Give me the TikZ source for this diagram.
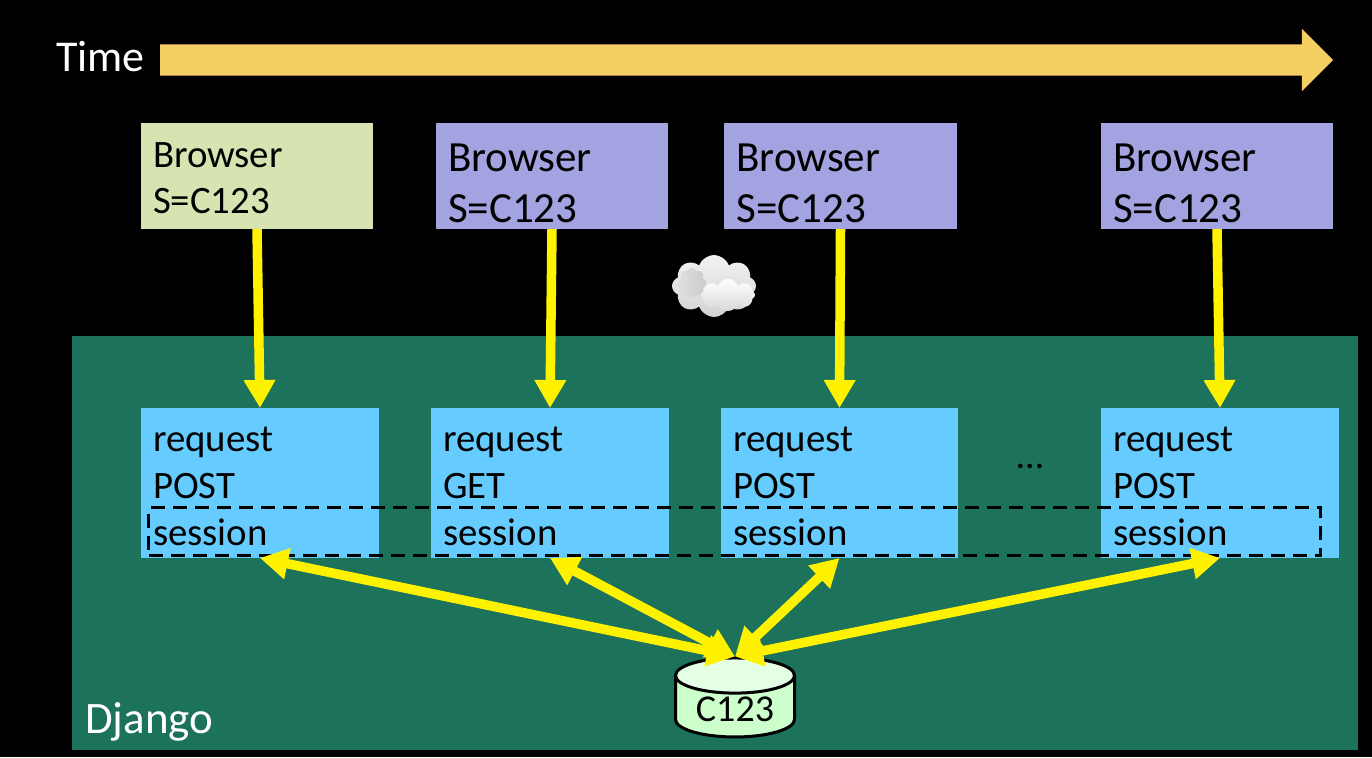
\documentclass[tikz,border=0pt]{standalone}
\usepackage{fontspec}
\setmainfont{Carlito}
\usetikzlibrary{arrows.meta,positioning,shapes.arrows,shapes.geometric,shapes.symbols}
\definecolor{panel green}{RGB}{28,114,90}
\definecolor{pale green}{RGB}{215,228,178}
\definecolor{pale violet}{RGB}{163,163,226}
\definecolor{req blue}{RGB}{102,204,255}
\definecolor{time gold}{RGB}{243,207,98}
\tikzset{
    small browser/.style = {
        anchor = north west,
        fill = pale green,
        outer sep = 0pt,
        minimum width = 232pt,
        minimum height = 106pt,
        text width = 208pt,
        text height = 20pt,
        text depth = 38pt,
        inner xsep = 12pt,
        inner ysep = 0pt,
        align = left,
        font = \fontsize{38.8}{46}\selectfont,
        },
    browser/.style = {
        small browser,
        fill = pale violet,
        text depth = 30pt,
        font = \fontsize{43}{51}\selectfont,
        },
    request/.style = {
        anchor = north west,
        fill = req blue,
        outer sep = 0pt,
        minimum width = 238pt,
        minimum height = 150pt,
        text width = 214pt,
        text height = 20pt,
        text depth = 84pt,
        inner xsep = 12pt,
        inner ysep = 0pt,
        align = left,
        font = \fontsize{38.8}{47.4}\selectfont,
        },
    wire/.style = {
        draw = yellow,
        line width = 9.5pt,
        -{Triangle[width=30pt,length=28pt]},
        },
    both wire/.style = {
        draw = yellow,
        line width = 9.5pt,
        {Triangle[width=30pt,length=28pt]}-{Triangle[width=30pt,length=28pt]},
        },
    puff/.style = {
        cloud,
        cloud puffs = 8,
        cloud puff arc = 140,
        inner sep = 0pt,
        },
}
\begin{document}
\begin{tikzpicture}[x=1pt,y=-1pt]
            \useasboundingbox (0,0) rectangle (1372,757);
            \fill[black] (0,0) rectangle (1372,757);

            \node[anchor=north west, fill=panel green, outer sep=0pt, minimum width=1286pt, minimum height=414pt] (django) at (72,336) {};
            \node[anchor=base west, text=white, font=\fontsize{45}{50}\selectfont, inner sep=0pt] (djangolabel) at (85,733) {Django};

            \node[anchor=west, single arrow, fill=time gold, outer sep=0pt, inner sep=0pt, inner ysep=15.5pt, minimum height=1173pt, minimum width=62pt, single arrow head extend=15.5pt] (timearrow) at (160,60) {};
            \node[anchor=base west, text=white, font=\fontsize{44}{50}\selectfont, inner sep=0pt] (timelabel) at (56,72) {Time};

            \node[small browser] (b1) at (141,123) {Browser\\S=C123};
            \node[browser, right=63pt of b1, anchor=west] (b2) {Browser\\S=C123};
            \node[browser, right=56pt of b2, anchor=west, minimum width=233pt] (b3) {Browser\\S=C123};
            \node[browser, right=144pt of b3, anchor=west] (b4) {Browser\\S=C123};

            \node[puff, minimum width=84pt, minimum height=62pt, top color=gray!10, bottom color=gray!35] (cloudback) at (714,286) {};
            \node[puff, minimum width=28pt, minimum height=30pt, left color=gray!25, right color=gray!40] (cloudleft) at (692,283) {};
            \node[puff, minimum width=54pt, minimum height=32pt, top color=white, bottom color=gray!30] (cloudfront) at (728,295) {};

            \node[request] (r1) at (141,408) {request\\POST\\session};
            \node[request, right=52pt of r1, anchor=west] (r2) {request\\GET\\session};
            \node[request, right=52pt of r2, anchor=west, minimum width=237pt, text width=213pt] (r3) {request\\POST\\session};
            \node[request, right=143pt of r3, anchor=west] (r4) {request\\POST\\session};
            \node[font=\fontsize{38}{46}\selectfont, inner sep=0pt] (dots) at (1030,466) {...};

            \node[anchor=north west, draw, dashed, line width=3pt, dash pattern=on 14pt off 8pt, minimum width=1172pt, minimum height=48pt] (sessions) at (147,506) {};

            \node[cylinder, shape border rotate=90, draw, line width=3pt, aspect=0.45, cylinder uses custom fill, cylinder body fill=green!20!white, cylinder end fill=green!10!white, minimum width=119pt, minimum height=79pt, inner sep=0pt, font=\fontsize{38}{40}\selectfont] (db) at (735,707) {\raisebox{-2pt}[24pt][0pt]{C123}};

            \draw[wire] (b1.south) -- (r1.north);
            \draw[wire] (b2.south) -- (r2.north);
            \draw[wire] (b3.south) -- (r3.north);
            \draw[wire] (b4.south) -- (r4.north);
            \draw[both wire] (r1.south) -- (db.north);
            \draw[both wire] (r2.south) -- (db.north);
            \draw[both wire] (r3.south) -- (db.north);
            \draw[both wire] (r4.south) -- (db.north);
        \end{tikzpicture}
\end{document}
